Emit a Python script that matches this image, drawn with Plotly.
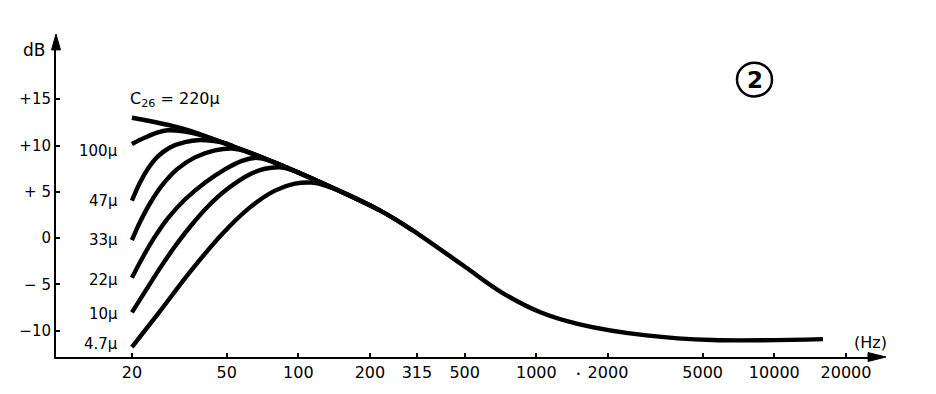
import math
import plotly.graph_objects as go

# ---- data (frequency in Hz, level in dB) ----
FREQ_220 = [20, 33, 53, 86, 140, 220, 300, 490, 720, 1040, 1520, 2900, 5500, 16000]
DB_220 = [13.0, 11.8, 9.9, 7.8, 5.4, 3.0, 0.9, -2.9, -5.9, -8.0, -9.3, -10.5, -11.0, -10.9]

FREQ_100 = [20, 22.7, 25.5, 28.3, 33.4, 38.6, 53]
DB_100 = [10.16, 10.86, 11.39, 11.64, 11.50, 11.14, 9.95]

FREQ_47 = [20, 21.6, 23.35, 25.7, 28.9, 33.4, 38.6, 43.4, 47.8, 53, 86]
DB_47 = [4.06, 5.99, 7.49, 8.82, 9.79, 10.37, 10.59, 10.51, 10.33, 9.95, 7.8]

FREQ_33 = [20, 21.6, 23.8, 26.7, 30.9, 36.8, 44.65, 52.6, 59.7, 86]
DB_33 = [-0.21, 1.71, 3.74, 5.67, 7.43, 8.72, 9.47, 9.68, 9.42, 7.8]

FREQ_22 = [20, 22.0, 24.75, 28.3, 33.4, 40.5, 49.2, 58.0, 65.75, 74.6, 86, 140]
DB_22 = [-4.28, -2.25, 0.0, 2.14, 4.17, 5.99, 7.43, 8.34, 8.66, 8.42, 7.8, 5.4]

FREQ_10 = [20, 22.7, 26.2, 30.3, 35.1, 41.7, 50.6, 62.65, 72.4, 83.7, 94.0, 140, 220]
DB_10 = [-8.02, -5.78, -3.26, -0.91, 1.23, 3.42, 5.35, 6.90, 7.49, 7.65, 7.36, 5.4, 3.0]

FREQ_4_7 = [20, 26.2, 35.1, 47.8, 62.65, 79.8, 96.8, 114.1, 131.9, 220, 300]
DB_4_7 = [-11.76, -7.91, -3.64, 0.43, 3.32, 5.13, 5.88, 5.99, 5.62, 3.0, 0.9]

CURVE_NAMES = ["220μ", "100μ", "47μ", "33μ", "22μ", "10μ", "4.7μ"]
CURVE_LABELS = ["100μ", "47μ", "33μ", "22μ", "10μ", "4.7μ"]

X_TICKS = [20, 50, 100, 200, 315, 500, 1000, 2000, 5000, 10000, 20000]
X_TICK_TEXT = ["20", "50", "100", "200", "315", "500", "1000", "2000", "5000", "10000", "20000"]
Y_TICKS = [15, 10, 5, 0, -5, -10]
Y_TICK_TEXT = ["+15", "+10", "+ 5", "0", "− 5", "−10"]

curves = [
    (FREQ_220, DB_220), (FREQ_100, DB_100), (FREQ_47, DB_47), (FREQ_33, DB_33),
    (FREQ_22, DB_22), (FREQ_10, DB_10), (FREQ_4_7, DB_4_7),
]

FONT = "DejaVu Sans"

# pixel -> paper helpers for the 56..880 x 40..360 plot box
def px(xp):
    return (xp - 56) / 824.0


def py(yp):
    return (360 - yp) / 320.0


fig = go.Figure()
for (fx, fy), name in zip(curves, CURVE_NAMES):
    fig.add_trace(go.Scatter(
        x=fx, y=fy, mode="lines", name=name,
        line=dict(color="black", width=4.4, shape="spline", smoothing=1.0),
        showlegend=False, hoverinfo="skip",
    ))

annotations = []
label_shift = [-7, 0, 0, -2, -2, 3]
for (fx, fy), lab, sh in zip(curves[1:], CURVE_LABELS, label_shift):
    annotations.append(dict(
        x=math.log10(17.8), y=fy[0], xref="x", yref="y", text=lab,
        showarrow=False, xanchor="right", yanchor="middle", yshift=sh,
        font=dict(family=FONT, size=15, color="black"),
    ))
annotations.append(dict(
    x=math.log10(19.2), y=DB_220[0], xref="x", yref="y",
    text="C<sub>26</sub> = 220μ", showarrow=False, xanchor="left", yanchor="middle",
    yshift=18, font=dict(family=FONT, size=16, color="black"),
))
annotations.append(dict(
    x=px(578), y=py(378), xref="paper", yref="paper", text="•",
    showarrow=False, xanchor="center", yanchor="middle",
    font=dict(family=FONT, size=8, color="black"),
))
annotations.append(dict(
    x=px(34), y=py(50), xref="paper", yref="paper", text="dB",
    showarrow=False, xanchor="center", yanchor="middle",
    font=dict(family=FONT, size=17, color="black"),
))
annotations.append(dict(
    x=px(870), y=py(345), xref="paper", yref="paper", text="(Hz)",
    showarrow=False, xanchor="center", yanchor="middle",
    font=dict(family=FONT, size=16, color="black"),
))
annotations.append(dict(
    x=px(754.5), y=py(80), xref="paper", yref="paper", text="<b>2</b>",
    showarrow=False, xanchor="center", yanchor="middle",
    font=dict(family=FONT, size=23, color="black"),
))

shapes = [
    dict(type="circle", xref="paper", yref="paper",
         x0=px(737), x1=px(772), y0=py(97), y1=py(63),
         line=dict(color="black", width=2.5)),
    dict(type="path", xref="paper", yref="paper",
         path=f"M {px(56)} {py(34)} L {px(51.5)} {py(50)} L {px(60.5)} {py(50)} Z",
         fillcolor="black", line=dict(color="black", width=1)),
    dict(type="path", xref="paper", yref="paper",
         path=f"M {px(886)} {py(360)} L {px(868)} {py(355.5)} L {px(868)} {py(364.5)} Z",
         fillcolor="black", line=dict(color="black", width=1)),
]

fig.update_layout(
    width=936, height=394,
    margin=dict(l=56, r=56, t=40, b=34),
    paper_bgcolor="white", plot_bgcolor="white",
    annotations=annotations, shapes=shapes,
    showlegend=False,
    xaxis=dict(
        type="log", range=[0.982, 4.444],
        tickvals=X_TICKS, ticktext=X_TICK_TEXT,
        showgrid=False, zeroline=False,
        showline=True, linecolor="black", linewidth=2,
        ticks="inside", ticklen=4, tickwidth=2, tickcolor="black",
        tickfont=dict(family=FONT, size=16, color="black"),
    ),
    yaxis=dict(
        range=[-12.83, 21.39],
        tickvals=Y_TICKS, ticktext=Y_TICK_TEXT,
        showgrid=False, zeroline=False,
        showline=True, linecolor="black", linewidth=2,
        ticks="inside", ticklen=4, tickwidth=2, tickcolor="black",
        tickfont=dict(family=FONT, size=15, color="black"),
    ),
)

fig.write_html("out.html")
